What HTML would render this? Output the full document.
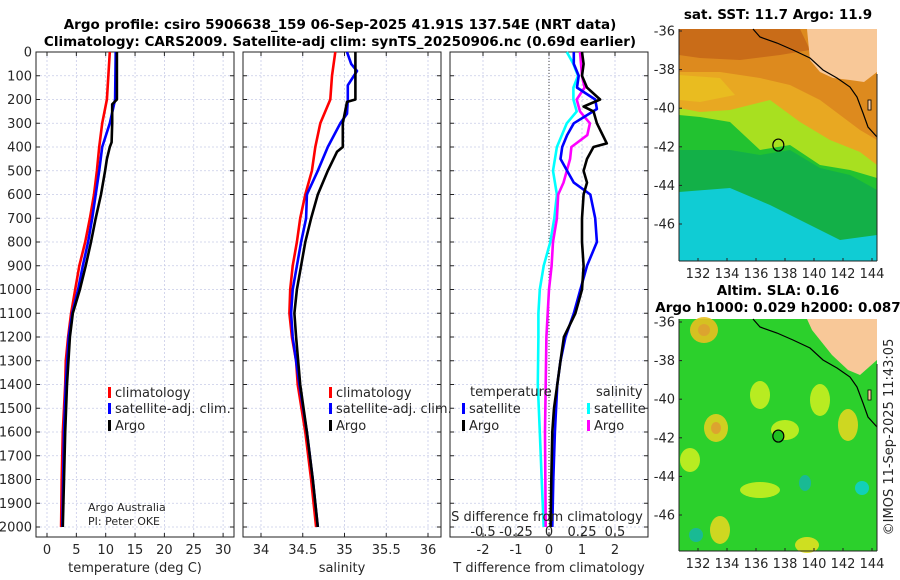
<!DOCTYPE html>
<html><head><meta charset="utf-8">
<style>
body{margin:0;background:#fff;width:900px;height:580px;overflow:hidden}
svg{display:block;font-family:"DejaVu Sans","Liberation Sans",sans-serif}
</style></head><body>
<svg id="fig" width="900" height="580" viewBox="0 0 900 580">
<text x="340" y="29" font-size="13.5" font-weight="bold" text-anchor="middle">Argo profile: csiro 5906638_159 06-Sep-2025 41.91S 137.54E (NRT data)</text>
<text x="340" y="46" font-size="13.5" font-weight="bold" text-anchor="middle">Climatology: CARS2009. Satellite-adj clim: synTS_20250906.nc (0.69d earlier)</text>
<g id="p1"></g>
<g id="p2"></g>
<g id="p3"></g>
<g id="maps"></g>
</svg>
<script>
const NS="http://www.w3.org/2000/svg";
const depthTicks=[0,100,200,300,400,500,600,700,800,900,1000,1100,1200,1300,1400,1500,1600,1700,1800,1900,2000];
const tTicks=[0,5,10,15,20,25,30];
const sTicks=[34,34.5,35,35.5,36];
const dTTicks=[-2,-1,0,1,2];
const dSTicks=[-0.5,-0.25,0,0.25,0.5];
const dSTickLabels=["-0.5","-0.25","0","0.25","0.5"];
// temperature
const tClimDepth=[0,200,300,400,500,600,700,800,900,1000,1100,1200,1300,1400,1500,1600,1800,2000];
const tClim=[10.7,10.2,9.4,8.9,8.5,8.0,7.3,6.5,5.5,4.8,4.1,3.6,3.2,3.1,2.9,2.7,2.5,2.4];
const tSatDepth=[0,200,300,400,500,600,700,800,900,1000,1100,1200,1400,1600,2000];
const tSat=[11.7,11.6,10.7,9.4,8.9,8.3,7.7,7.0,6.1,5.3,4.3,3.7,3.2,2.9,2.6];
const tArgoDepth=[0,200,220,300,380,400,450,500,600,700,800,900,1000,1100,1200,1400,1600,1800,2000];
const tArgo=[11.9,11.9,11.1,11.1,11.0,10.7,10.2,9.9,9.2,8.3,7.5,6.6,5.6,4.4,3.9,3.4,3.1,2.9,2.7];
// salinity
const sClimDepth=[0,100,200,300,400,500,600,700,800,900,1000,1100,1200,1300,1400,1600,1800,2000];
const sClim=[34.89,34.85,34.83,34.71,34.65,34.61,34.53,34.47,34.43,34.38,34.35,34.34,34.37,34.42,34.44,34.53,34.60,34.66];
const sSatDepth=[0,50,80,140,200,260,300,400,500,600,700,800,900,1000,1100,1200,1400,1600,1800,2000];
const sSat=[35.03,35.08,35.15,35.04,35.04,35.03,34.95,34.80,34.68,34.55,34.54,34.48,34.43,34.38,34.36,34.38,34.46,34.55,34.62,34.68];
const sArgoDepth=[0,200,210,300,400,420,500,600,700,800,900,1000,1100,1200,1400,1600,1800,2000];
const sArgo=[35.13,35.13,35.03,34.98,34.98,34.91,34.80,34.68,34.60,34.53,34.48,34.43,34.40,34.42,34.47,34.55,34.62,34.68];
// differences
const dTArgoDepth=[0,50,100,150,200,230,250,300,385,400,450,500,550,600,700,800,900,1000,1100,1200,1300,1400,1500,1600,1800,2000];
const dTArgo=[1.0,1.05,1.0,1.15,1.55,1.05,1.35,1.45,1.75,1.35,1.15,1.05,1.15,1.05,1.0,1.0,1.05,1.0,0.8,0.45,0.35,0.25,0.15,0.1,0.07,0.05];
const dTSatDepth=[0,50,100,150,200,240,300,350,400,450,500,550,600,700,800,900,1000,1100,1200,1300,1400,1600,1800,2000];
const dTSat=[0.75,0.75,0.9,0.85,1.4,1.45,0.75,0.55,0.4,0.35,0.55,0.75,1.25,1.4,1.45,1.15,0.95,0.75,0.5,0.35,0.25,0.18,0.13,0.1];
const dSSatDepth=[0,50,100,150,200,250,300,400,500,600,700,800,900,1000,1100,1200,1400,1600,1800,2000];
const dSSat=[0.135,0.185,0.22,0.185,0.185,0.21,0.135,0.06,0.03,0.06,0.04,0.01,-0.04,-0.07,-0.08,-0.08,-0.085,-0.07,-0.055,-0.04];
const dSArgoDepth=[0,100,150,200,250,300,350,400,450,500,550,600,700,800,900,1000,1100,1200,1400,1600,2000];
const dSArgo=[0.235,0.25,0.27,0.21,0.235,0.31,0.29,0.17,0.16,0.135,0.11,0.07,0.06,0.03,0.02,0,-0.01,-0.02,-0.025,-0.03,-0.025];

const TOP=52,BOT=537;
const yD=d=>TOP+d*0.2375;
function el(tag,attrs,parent,txt){const e=document.createElementNS(NS,tag);for(const k in attrs)e.setAttribute(k,attrs[k]);if(txt!==undefined)e.textContent=txt;parent.appendChild(e);return e;}

function panel(g,x0,x1,xf,ticks,tickLbl,xtitle,showY){
  el('rect',{x:x0,y:TOP,width:x1-x0,height:BOT-TOP,fill:'#fff'},g);
  ticks.forEach(v=>{el('line',{x1:xf(v),x2:xf(v),y1:TOP,y2:BOT,stroke:'#c8cce8','stroke-width':0.8,'stroke-dasharray':'2,2'},g);});
  depthTicks.forEach(d=>{el('line',{x1:x0,x2:x1,y1:yD(d),y2:yD(d),stroke:'#c8cce8','stroke-width':0.8,'stroke-dasharray':'2,2'},g);
    el('line',{x1:x0,x2:x0+4,y1:yD(d),y2:yD(d),stroke:'#222'},g);el('line',{x1:x1-4,x2:x1,y1:yD(d),y2:yD(d),stroke:'#222'},g);
    if(showY){const t=el('text',{x:x0-4,y:yD(d)+4.5,'font-size':13,'text-anchor':'end',fill:'#262626'},g,String(d));}
  });
  ticks.forEach((v,i)=>{el('line',{x1:xf(v),x2:xf(v),y1:BOT,y2:BOT-4,stroke:'#222'},g);el('line',{x1:xf(v),x2:xf(v),y1:TOP,y2:TOP+4,stroke:'#222'},g);
    if(tickLbl){const t=el('text',{x:xf(v),y:554,'font-size':13,'text-anchor':'middle',fill:'#262626'},g,tickLbl[i]);}
  });
  el('rect',{x:x0,y:TOP,width:x1-x0,height:BOT-TOP,fill:'none',stroke:'#222','stroke-width':1},g);
  const tt=el('text',{x:(x0+x1)/2,y:572,'font-size':13,'text-anchor':'middle',fill:'#262626'},g,xtitle);
  
}
function line(g,xf,ds,vs,color,name){
  const pts=ds.map((d,i)=>xf(vs[i]).toFixed(1)+','+yD(d).toFixed(1)).join(' ');
  const p=el('polyline',{points:pts,fill:'none',stroke:color,'stroke-width':2.6,'stroke-linejoin':'round'},g);
  
}
function legend(g,x,y,color,label,name){
  el('rect',{x:x-3,y:y-10,width:3,height:11,fill:color},g);
  const t=el('text',{x:x+4,y:y,'font-size':13,fill:'#262626'},g,label);
  
}
// panel 1
const g1=document.getElementById('p1');
const xT=v=>47+v*5.87;
panel(g1,36,234,xT,tTicks,tTicks.map(String),'temperature (deg C)',true);
line(g1,xT,tClimDepth,tClim,'#ff0000','temp-climatology-line');
line(g1,xT,tSatDepth,tSat,'#0000ff','temp-satellite-line');
line(g1,xT,tArgoDepth,tArgo,'#000000','temp-argo-line');
legend(g1,111,397,'#ff0000','climatology','legend-climatology');
legend(g1,111,413,'#0000ff','satellite-adj. clim.','legend-satellite');
legend(g1,111,430,'#000','Argo','legend-argo');
let t=el('text',{x:88,y:511,'font-size':11,fill:'#262626'},g1,'Argo Australia');
t=el('text',{x:88,y:525,'font-size':11,fill:'#262626'},g1,'PI: Peter OKE');
// panel 2
const g2=document.getElementById('p2');
const xS=v=>261+(v-34)*83.5;
panel(g2,243,441,xS,sTicks,["34","34.5","35","35.5","36"],'salinity',false);
line(g2,xS,sClimDepth,sClim,'#ff0000','sal-climatology-line');
line(g2,xS,sSatDepth,sSat,'#0000ff','sal-satellite-line');
line(g2,xS,sArgoDepth,sArgo,'#000000','sal-argo-line');
legend(g2,332,397,'#ff0000','climatology','legend-climatology');
legend(g2,332,413,'#0000ff','satellite-adj. clim.','legend-satellite');
legend(g2,332,430,'#000','Argo','legend-argo');
// panel 3
const g3=document.getElementById('p3');
const xDT=v=>549+v*33;
const xDS=v=>549+v*132;
panel(g3,450,648,xDT,dTTicks,dTTicks.map(String),'T difference from climatology',false);
el('line',{x1:549,x2:549,y1:TOP,y2:BOT,stroke:'#444','stroke-width':1,'stroke-dasharray':'1,2'},g3);
line(g3,xDS,dSSatDepth,dSSat,'#00ffff','sal-diff-satellite-line');
line(g3,xDS,dSArgoDepth,dSArgo,'#ff00ff','sal-diff-argo-line');
line(g3,xDT,dTSatDepth,dTSat,'#0000ff','temp-diff-satellite-line');
line(g3,xDT,dTArgoDepth,dTArgo,'#000000','temp-diff-argo-line');
t=el('text',{x:470,y:396,'font-size':13,fill:'#262626'},g3,'temperature');
t=el('text',{x:596,y:396,'font-size':13,fill:'#262626'},g3,'salinity');
legend(g3,465,413,'#0000ff','satellite','legend-temp-satellite');
legend(g3,465,430,'#000','Argo','legend-temp-argo');
legend(g3,590,413,'#00ffff','satellite','legend-sal-satellite');
legend(g3,590,430,'#ff00ff','Argo','legend-sal-argo');
t=el('text',{x:547,y:521,'font-size':13,'text-anchor':'middle',fill:'#262626'},g3,'S difference from climatology');
dSTicks.forEach((v,i)=>{const tt=el('text',{x:xDS(v),y:536,'font-size':13,'text-anchor':'middle',fill:'#262626'},g3,dSTickLabels[i]);});

// maps
const gm=document.getElementById('maps');
const lonTicks=[132,134,136,138,140,142,144];
const latTicks=[-36,-38,-40,-42,-44,-46];
function mapAxes(y0,y1,lat36,name){
  const lx=v=>698+(v-132)*14.5, ly=v=>lat36+(-36-v)*19.3;
  lonTicks.forEach(v=>{el('line',{x1:lx(v),x2:lx(v),y1:y1,y2:y1-3,stroke:'#222'},gm);
    const tt=el('text',{x:lx(v),y:y1+17,'font-size':13,'text-anchor':'middle',fill:'#262626'},gm,String(v));});
  latTicks.forEach(v=>{el('line',{x1:679,x2:682,y1:ly(v),y2:ly(v),stroke:'#222'},gm);
    const tt=el('text',{x:675,y:ly(v)+4.5,'font-size':13,'text-anchor':'end',fill:'#262626'},gm,String(v));});
  el('line',{x1:679,x2:679,y1:y0,y2:y1,stroke:'#222'},gm);el('line',{x1:679,x2:877,y1:y1,y2:y1,stroke:'#222'},gm);
  el('line',{x1:877,x2:877,y1:y0+45,y2:y1,stroke:'#222'},gm);
  el('ellipse',{cx:lx(137.54),cy:ly(-41.91),rx:5.5,ry:6,fill:name==='sla-map'?'#20c020':'none',stroke:'#000','stroke-width':1.2},gm);
}
let s=`<rect x="679" y="29" width="198" height="232" fill="#10ccd4"/>
<polygon points="679,29 877,29 877,235 840,240 810,225 770,205 730,188 679,192" fill="#13b048"/>
<polygon points="679,29 877,29 877,190 850,175 820,168 790,150 760,155 730,150 679,150" fill="#22c230"/>
<polygon points="679,29 877,29 877,178 850,170 820,165 790,145 760,150 730,122 700,117 679,115" fill="#a8e020"/>
<polygon points="679,29 877,29 877,165 860,152 830,140 800,122 770,100 730,110 700,112 679,108" fill="#e8a822"/>
<polygon points="679,29 877,29 877,140 860,130 820,100 790,85 760,78 720,72 679,72" fill="#dd8a1e"/>
<polygon points="679,29 800,29 810,50 780,55 740,60 700,58 679,55" fill="#c96c18"/>
<polygon points="679,75 720,78 735,95 700,102 679,100" fill="#e8c020" opacity="0.8"/>
<polygon points="807,29 877,29 877,72 864,82 850,80 833,78 820,72 810,60" fill="#f8c898"/>
<polyline points="753,29 760,37 777,43 793,50 810,58 823,70 837,78 850,87 857,97 863,113 868,127 877,137" fill="none" stroke="#000" stroke-width="1.2"/>
<rect x="868" y="100" width="3" height="10" fill="#f8c898" stroke="#000" stroke-width="0.8"/>`;
s+=`<rect x="679" y="319" width="198" height="232" fill="#2cd02c"/>
<g opacity="0.9">
<ellipse cx="704" cy="330" rx="14" ry="13" fill="#e8c020"/><ellipse cx="704" cy="330" rx="6" ry="6" fill="#f0a030"/>
<ellipse cx="716" cy="428" rx="12" ry="14" fill="#e0d020"/><ellipse cx="716" cy="428" rx="5" ry="6" fill="#f0a030"/>
<ellipse cx="760" cy="395" rx="10" ry="14" fill="#c8f020"/>
<ellipse cx="785" cy="430" rx="14" ry="10" fill="#c8f020"/>
<ellipse cx="820" cy="400" rx="10" ry="16" fill="#c8f020"/>
<ellipse cx="848" cy="425" rx="10" ry="16" fill="#e0d820"/>
<ellipse cx="720" cy="530" rx="10" ry="14" fill="#e0d820"/>
<ellipse cx="807" cy="545" rx="12" ry="8" fill="#e0e020"/>
<ellipse cx="690" cy="460" rx="10" ry="12" fill="#c8f020"/>
<ellipse cx="760" cy="490" rx="20" ry="8" fill="#c8f020"/>
<ellipse cx="862" cy="488" rx="7" ry="7" fill="#10d0c8"/>
<ellipse cx="696" cy="535" rx="7" ry="7" fill="#18b8a0"/>
<ellipse cx="805" cy="483" rx="6" ry="8" fill="#18b8a0"/>
</g>
<polygon points="807,319 877,319 877,360 860,375 848,370 832,355 820,340 812,330" fill="#f8c898"/>
<polyline points="753,319 760,327 777,333 793,340 810,348 823,360 837,368 850,377 857,387 863,403 868,417 877,427" fill="none" stroke="#000" stroke-width="1.2"/>
<rect x="868" y="390" width="3" height="10" fill="#f8c898" stroke="#000" stroke-width="0.8"/>
<text x="778" y="19" font-size="13.5" font-weight="bold" text-anchor="middle">sat. SST: 11.7 Argo: 11.9</text>
<text x="778" y="295" font-size="13.5" font-weight="bold" text-anchor="middle">Altim. SLA: 0.16</text>
<text x="778" y="312" font-size="13.5" font-weight="bold" text-anchor="middle">Argo h1000: 0.029 h2000: 0.087</text>
<text x="0" y="0" font-size="13" fill="#262626" text-anchor="middle" transform="translate(893,437) rotate(-90)">©IMOS 11-Sep-2025 11:43:05</text>`;
gm.insertAdjacentHTML('beforeend',s);
mapAxes(29,261,31,'sst-map');
mapAxes(319,551,322,'sla-map');
</script>
</body></html>
